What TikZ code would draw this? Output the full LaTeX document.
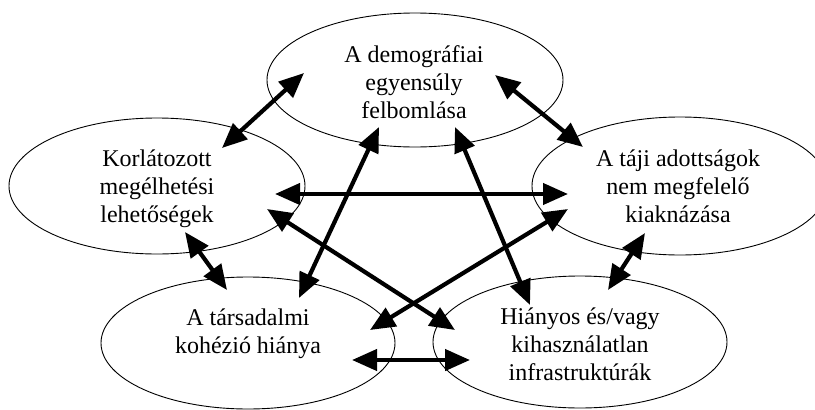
\documentclass[tikz,border=0pt]{standalone}
\usepackage{fontspec}
\setmainfont{Liberation Serif}
\usetikzlibrary{shapes.geometric,arrows.meta}
\begin{document}
\begin{tikzpicture}[x=1pt,y=-1pt,
  bubble/.style={draw, ellipse, line width=0.9pt, inner sep=0pt, minimum width=296pt, minimum height=134pt},
  bubbletext/.style={anchor=base, align=center, inner sep=0pt, font=\fontsize{24}{28}\selectfont},
  link/.style={line width=4.2pt, {Triangle[length=25pt,width=21pt]}-{Triangle[length=25pt,width=21pt]}}]
\useasboundingbox (0,0) rectangle (815,410);
% ellipses
\node[bubble] (top) at (415,80) {};
\node[bubble, minimum height=136pt] (left) at (157,186) {};
\node[bubble, minimum height=138pt] (right) at (680,186) {};
\node[bubble, minimum width=294pt, minimum height=132pt] (bl) at (248,343) {};
\node[bubble, minimum width=294pt, minimum height=132pt] (br) at (580,342) {};
% texts (anchor = baseline of the last line)
\node[bubbletext] (ttop) at (414,118) {A demográfiai\\egyensúly\\felbomlása};
\node[bubbletext] (tleft) at (157,222) {Korlátozott\\megélhetési\\lehetőségek};
\node[bubbletext] (tright) at (678,222) {A táji adottságok\\nem megfelelő\\kiaknázása};
\node[bubbletext] (tbl) at (248,353) {A társadalmi\\kohézió hiánya};
\node[bubbletext] (tbr) at (580,380) {Hiányos és/vagy\\kihasználatlan\\infrastruktúrák};
% arrow end points
\coordinate (tl1) at (304,73);  \coordinate (tl2) at (222,148);
\coordinate (tr1) at (495,75);  \coordinate (tr2) at (583,147);
\coordinate (lr1) at (275,194); \coordinate (lr2) at (568,194);
\coordinate (lb1) at (185,232); \coordinate (lb2) at (227,290);
\coordinate (rb1) at (645,233); \coordinate (rb2) at (608,290);
\coordinate (bb1) at (352,360); \coordinate (bb2) at (470,360);
\coordinate (tb1) at (379,127); \coordinate (tb2) at (299,298);
\coordinate (tc1) at (455,127); \coordinate (tc2) at (530,305);
\coordinate (lc1) at (267,209); \coordinate (lc2) at (455,330);
\coordinate (rc1) at (568,209); \coordinate (rc2) at (370,330);
% arrows
\draw[link] (tl1) -- (tl2);
\draw[link] (tr1) -- (tr2);
\draw[link] (lr1) -- (lr2);
\draw[link] (lb1) -- (lb2);
\draw[link] (rb1) -- (rb2);
\draw[link] (bb1) -- (bb2);
\draw[link] (tb1) -- (tb2);
\draw[link] (tc1) -- (tc2);
\draw[link] (lc1) -- (lc2);
\draw[link] (rc1) -- (rc2);
\end{tikzpicture}
\end{document}
